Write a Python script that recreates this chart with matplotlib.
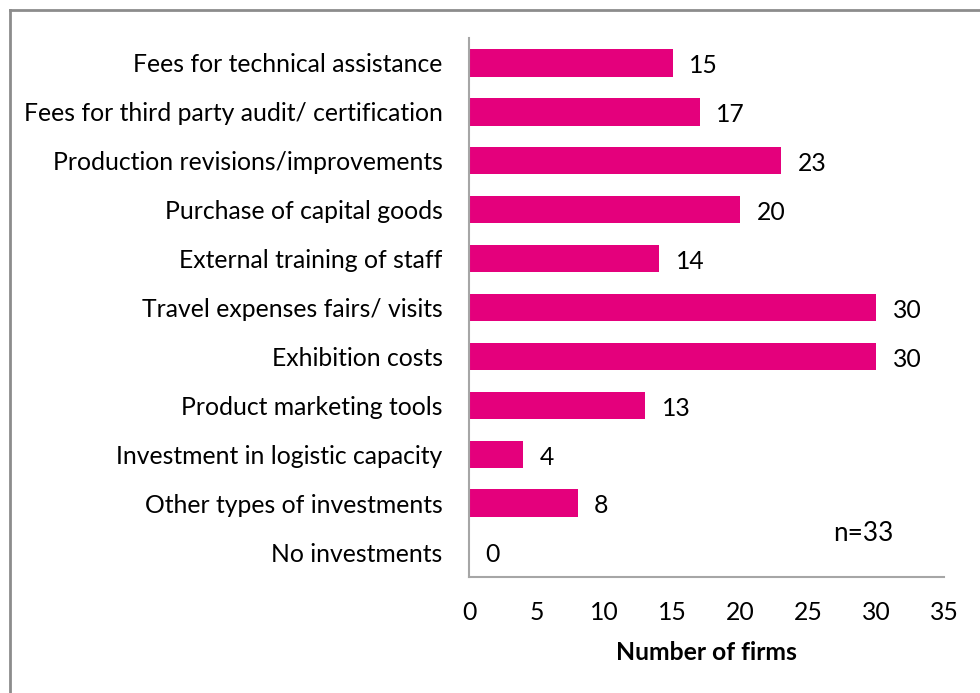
import matplotlib
matplotlib.use("Agg")
import matplotlib.pyplot as plt
from matplotlib.lines import Line2D

categories = [
    "Fees for technical assistance",
    "Fees for third party audit/ certification",
    "Production revisions/improvements",
    "Purchase of capital goods",
    "External training of staff",
    "Travel expenses fairs/ visits",
    "Exhibition costs",
    "Product marketing tools",
    "Investment in logistic capacity",
    "Other types of investments",
    "No investments",
]
values = [15, 17, 23, 20, 14, 30, 30, 13, 4, 8, 0]
x_ticks = [0, 5, 10, 15, 20, 25, 30, 35]

plt.rcParams["font.family"] = ["Lato", "DejaVu Sans"]
FS = 17.8
BAR = "#E4007C"
GREY = "#A6A6A6"

fig = plt.figure(figsize=(9.8, 6.93), dpi=100)
ax = fig.add_axes([469 / 980, 1 - 576.5 / 693, (944 - 469) / 980, (576.5 - 38.5) / 693])

pos = list(range(len(categories)))
ax.barh(pos, values, height=0.56, color=BAR)
for p, v in zip(pos, values):
    ax.annotate(str(v), (v, p), xytext=(12, -2), textcoords="offset points",
                va="center", ha="left", fontsize=FS, color="black")

ax.set_yticks(pos)
ax.set_yticklabels(categories, fontsize=FS)
ax.set_ylim(len(categories) - 0.5, -0.5)
ax.set_xlim(0, 35)
ax.set_xticks(x_ticks)
ax.set_xticklabels([str(t) for t in x_ticks], fontsize=FS)
ax.tick_params(axis="both", length=0)
ax.tick_params(axis="y", pad=19)
ax.tick_params(axis="x", pad=18)
ax.set_xlabel("Number of firms", fontsize=FS, fontweight="bold", labelpad=12)

for s in ("top", "right"):
    ax.spines[s].set_visible(False)
for s in ("left", "bottom"):
    ax.spines[s].set_color(GREY)
    ax.spines[s].set_linewidth(1.5)

ax.text(0.83, 0.079, "n=33", transform=ax.transAxes, fontsize=FS + 1,
        ha="center", va="center")

# outer frame: only the top and left edges fall inside the canvas
fig.add_artist(Line2D([10 / 980, 1], [1 - 10 / 693, 1 - 10 / 693],
                      transform=fig.transFigure, color="#8C8C8C", lw=2))
fig.add_artist(Line2D([10 / 980, 10 / 980], [0, 1 - 10 / 693],
                      transform=fig.transFigure, color="#8C8C8C", lw=2))

fig.savefig("out.png", dpi=100)
